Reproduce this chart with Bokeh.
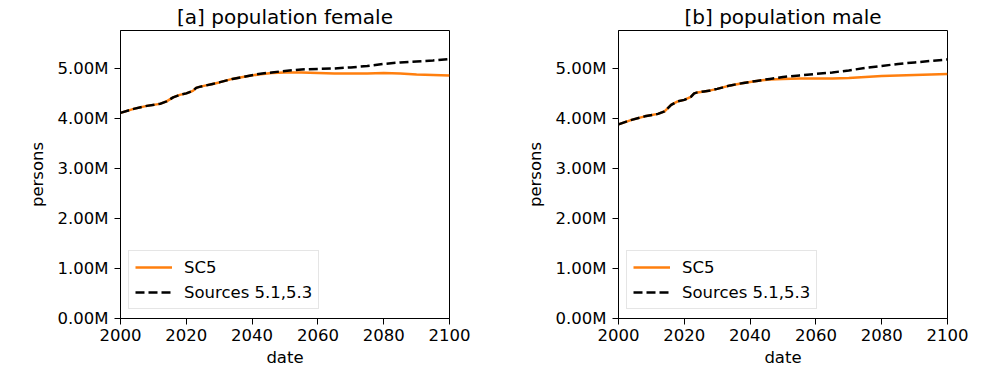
from bokeh.plotting import figure
from bokeh.layouts import row
from bokeh.models import Range1d, FixedTicker, PrintfTickFormatter, Legend, LegendItem
from bokeh.embed import file_html
from bokeh.resources import INLINE

# ---- data (values in millions of persons) ----
years = [2000, 2004, 2008, 2012, 2014, 2016, 2018, 2020, 2022, 2023, 2024, 2026,
         2028, 2030, 2034, 2038, 2042, 2046, 2050, 2055, 2060, 2065, 2070, 2075,
         2080, 2085, 2090, 2095, 2100]

female_sc5 = [4.12, 4.20, 4.26, 4.30, 4.35, 4.43, 4.48, 4.51, 4.56, 4.62, 4.64, 4.67,
              4.70, 4.73, 4.80, 4.85, 4.89, 4.92, 4.93, 4.93, 4.92, 4.91, 4.91, 4.91,
              4.92, 4.91, 4.89, 4.88, 4.87]
female_sources = [4.12, 4.20, 4.26, 4.30, 4.35, 4.43, 4.48, 4.51, 4.56, 4.62, 4.64, 4.67,
                  4.70, 4.73, 4.80, 4.85, 4.90, 4.93, 4.96, 4.99, 5.00, 5.01, 5.03, 5.06,
                  5.10, 5.13, 5.15, 5.17, 5.20]

male_sc5 = [3.89, 3.98, 4.05, 4.10, 4.15, 4.28, 4.35, 4.38, 4.44, 4.51, 4.53, 4.55,
            4.57, 4.60, 4.67, 4.72, 4.76, 4.79, 4.80, 4.81, 4.81, 4.81, 4.82, 4.84,
            4.86, 4.87, 4.88, 4.89, 4.90]
male_sources = [3.89, 3.98, 4.05, 4.10, 4.15, 4.28, 4.35, 4.38, 4.44, 4.51, 4.53, 4.55,
                4.57, 4.60, 4.67, 4.72, 4.76, 4.80, 4.84, 4.87, 4.90, 4.93, 4.97, 5.02,
                5.06, 5.10, 5.13, 5.16, 5.19]

x_ticks = [2000, 2020, 2040, 2060, 2080, 2100]
y_ticks = [0, 1, 2, 3, 4, 5]
titles = ["[a] population female", "[b] population male"]
series_labels = ["SC5", "Sources 5.1,5.3"]

FONT = "DejaVu Sans"
TICK_SIZE = "16.5px"


def make(title, sc5, src, width, bl, br):
    p = figure(width=width, height=372, output_backend="svg", toolbar_location=None,
               x_range=Range1d(2000, 2100), y_range=Range1d(0, 5.77),
               min_border_left=bl, min_border_right=br,
               min_border_top=30, min_border_bottom=54, title=title)
    p.title.text_font = FONT
    p.title.text_font_size = "20px"
    p.title.text_font_style = "normal"
    p.title.align = "center"
    p.title.text_color = "black"
    p.title.standoff = 4
    p.xgrid.visible = False
    p.ygrid.visible = False
    p.outline_line_color = "black"
    p.outline_line_alpha = 1
    p.outline_line_width = 1
    p.background_fill_color = "white"
    for ax in (p.xaxis[0], p.yaxis[0]):
        ax.axis_line_color = "black"
        ax.major_tick_line_color = "black"
        ax.major_tick_out = 6
        ax.major_tick_in = 0
        ax.minor_tick_line_color = None
        ax.major_label_text_font = FONT
        ax.major_label_text_font_size = TICK_SIZE
        ax.major_label_text_color = "black"
        ax.axis_label_text_font = FONT
        ax.axis_label_text_font_size = TICK_SIZE
        ax.axis_label_text_font_style = "normal"
        ax.axis_label_text_color = "black"
    p.xaxis.major_label_standoff = 4
    p.xaxis.axis_label_standoff = 4
    p.yaxis.major_label_standoff = 6
    p.yaxis.axis_label_standoff = 8
    p.xaxis.ticker = FixedTicker(ticks=x_ticks)
    p.yaxis.ticker = FixedTicker(ticks=y_ticks)
    p.yaxis.formatter = PrintfTickFormatter(format="%.2fM")
    p.xaxis.axis_label = "date"
    p.yaxis.axis_label = "persons"

    r1 = p.line(years, sc5, line_color="#ff7f0e", line_width=2.5)
    r2 = p.line(years, src, line_color="black", line_width=2.5, line_dash="9 4")
    legend = Legend(items=[LegendItem(label=series_labels[0], renderers=[r1]),
                           LegendItem(label=series_labels[1], renderers=[r2])],
                    location=(8, 9), margin=0, padding=6, spacing=5,
                    glyph_width=37, glyph_height=20, label_height=20,
                    label_standoff=12,
                    label_text_font=FONT, label_text_font_size=TICK_SIZE,
                    label_text_color="black",
                    border_line_color="#cccccc", border_line_width=1,
                    background_fill_color="white", background_fill_alpha=0.8)
    p.add_layout(legend)
    return p


p1 = make(titles[0], female_sc5, female_sources, 498, 120, 49)
p2 = make(titles[1], male_sc5, male_sources, 490, 120, 41)
layout = row(p1, p2)

open("out.html", "w").write(file_html(layout, INLINE))
